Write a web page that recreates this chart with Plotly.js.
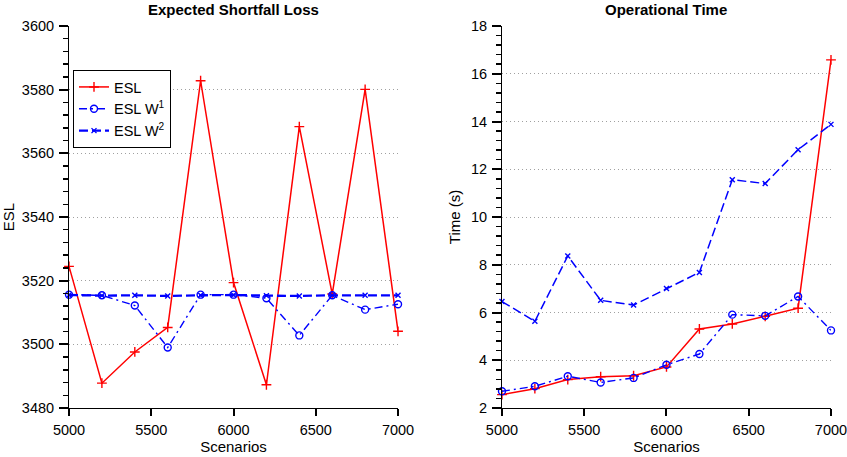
<!DOCTYPE html>
<html>
<head>
<meta charset="utf-8">
<script src="https://cdn.plot.ly/plotly-3.0.1.min.js"></script>
<style>
  html, body { margin: 0; padding: 0; background: #fff; }
  #chart { width: 847px; height: 457px; }
</style>
</head>
<body>
<div id="chart"></div>
<script>
// Number of scenarios (shared x values)
const scenarios = [5000, 5200, 5400, 5600, 5800, 6000, 6200, 6400, 6600, 6800, 7000];

// Expected shortfall loss per method
const eslPlain = [3524.5, 3487.8, 3497.6, 3505.3, 3582.8, 3519.4, 3487.3, 3568.4, 3515.8, 3580.1, 3504.1];
const eslW1    = [3515.6, 3515.4, 3512.2, 3499.0, 3515.6, 3515.6, 3514.5, 3502.8, 3515.4, 3510.9, 3512.6];
const eslW2    = [3515.5, 3515.3, 3515.4, 3515.2, 3515.4, 3515.5, 3515.3, 3515.2, 3515.4, 3515.4, 3515.4];

// Operational time (s) per method
const timePlain = [2.56, 2.81, 3.19, 3.31, 3.35, 3.72, 5.31, 5.52, 5.84, 6.18, 16.58];
const timeW1    = [2.70, 2.91, 3.33, 3.07, 3.26, 3.81, 4.26, 5.91, 5.86, 6.67, 5.25];
const timeW2    = [6.46, 5.63, 8.37, 6.51, 6.31, 7.01, 7.68, 11.56, 11.40, 12.82, 13.88];

const seriesNames = ['ESL', 'ESL W<sup>1</sup>', 'ESL W<sup>2</sup>'];

const RED = '#ff0000';
const BLUE = '#0000ff';
const AXIS = '#000000';
const FONT = 'Liberation Sans, Arial, sans-serif';

function styleRed(w) {
  return {
    mode: 'lines+markers',
    line: { color: RED, width: w },
    marker: { symbol: 'cross-thin-open', size: 7, color: RED, line: { color: RED, width: 1.4 } }
  };
}
function styleW1(w) {
  return {
    mode: 'lines+markers',
    line: { color: BLUE, width: w, dash: '8px,4px,2px,4px' },
    marker: { symbol: 'circle-open', size: 7, color: BLUE, line: { color: BLUE, width: 1.4 } }
  };
}
function styleW2(w) {
  return {
    mode: 'lines+markers',
    line: { color: BLUE, width: w, dash: '9px,4px' },
    marker: { symbol: 'x-thin-open', size: 5, color: BLUE, line: { color: BLUE, width: 1.4 } }
  };
}

const traces = [
  Object.assign({ x: scenarios, y: eslPlain, name: seriesNames[0], xaxis: 'x', yaxis: 'y', cliponaxis: false }, styleRed(1.5)),
  Object.assign({ x: scenarios, y: eslW1, name: seriesNames[1], xaxis: 'x', yaxis: 'y', cliponaxis: false }, styleW1(1.4)),
  Object.assign({ x: scenarios, y: eslW2, name: seriesNames[2], xaxis: 'x', yaxis: 'y', cliponaxis: false }, styleW2(2.3)),
  Object.assign({ x: scenarios, y: timePlain, name: seriesNames[0], xaxis: 'x2', yaxis: 'y2', showlegend: false, cliponaxis: false }, styleRed(1.5)),
  Object.assign({ x: scenarios, y: timeW1, name: seriesNames[1], xaxis: 'x2', yaxis: 'y2', showlegend: false, cliponaxis: false }, styleW1(1.4)),
  Object.assign({ x: scenarios, y: timeW2, name: seriesNames[2], xaxis: 'x2', yaxis: 'y2', showlegend: false, cliponaxis: false }, styleW2(1.5))
];

const tickFont = { family: FONT, size: 14.5, color: '#000' };
const titleFont = { family: FONT, size: 15, color: '#000' };

function xAxis(domain, anchor) {
  return {
    domain: domain, anchor: anchor,
    range: [5000, 7000], tickmode: 'array', tickvals: [5000, 5500, 6000, 6500, 7000],
    showline: true, linecolor: AXIS, linewidth: 1,
    ticks: 'outside', ticklen: 7, tickcolor: AXIS, tickwidth: 2,
    showgrid: false, zeroline: false,
    tickfont: tickFont, ticklabeloverflow: 'allow', ticklabelstandoff: 2,
    title: { text: 'Scenarios', font: titleFont, standoff: 3 }
  };
}
function yAxis(range, dtick, minorStep, title, anchor, standoff) {
  return {
    domain: [0, 1], anchor: anchor,
    range: range, tickmode: 'linear', dtick: dtick, tick0: range[0],
    showline: true, linecolor: AXIS, linewidth: 1,
    ticks: 'outside', ticklen: 9, tickcolor: AXIS, tickwidth: 2,
    minor: { tickmode: 'linear', dtick: minorStep, tick0: range[0], ticks: 'outside', ticklen: 5, tickwidth: 1.5, tickcolor: AXIS, showgrid: false },
    showgrid: true, gridcolor: '#a0a0a0', gridwidth: 1, griddash: '1px,3px',
    zeroline: false,
    tickfont: tickFont, ticklabeloverflow: 'allow', ticklabelstandoff: 2,
    title: { text: title, font: titleFont, standoff: standoff }
  };
}

const layout = {
  width: 847, height: 457,
  margin: { l: 69, r: 16, t: 26, b: 49 },
  paper_bgcolor: '#fff', plot_bgcolor: '#fff',
  font: { family: FONT, color: '#000' },
  xaxis: xAxis([0, 0.4318], 'y'),
  yaxis: yAxis([3480, 3600], 20, 4, 'ESL', 'x', 8),
  xaxis2: xAxis([0.5682, 1], 'y2'),
  yaxis2: yAxis([2, 18], 2, 0.4, 'Time (s)', 'x2', 6),
  showlegend: true,
  legend: {
    x: (73 - 69) / 762, y: 1 - (70 - 26) / 382, xanchor: 'left', yanchor: 'top',
    bgcolor: '#fff', bordercolor: '#000', borderwidth: 1,
    font: { family: FONT, size: 14.5, color: '#000' },
    itemwidth: 30, tracegroupgap: 0
  },
  annotations: [
    { text: '<b>Expected Shortfall Loss</b>', xref: 'paper', yref: 'paper',
      x: 0.4318 / 2, y: 1 + (26 - 10) / 382, xanchor: 'center', yanchor: 'middle',
      showarrow: false, font: { family: FONT, size: 15, color: '#000' } },
    { text: '<b>Operational Time</b>', xref: 'paper', yref: 'paper',
      x: (0.5682 + 1) / 2, y: 1 + (26 - 10) / 382, xanchor: 'center', yanchor: 'middle',
      showarrow: false, font: { family: FONT, size: 15, color: '#000' } }
  ]
};

Plotly.newPlot('chart', traces, layout, { displayModeBar: false, staticPlot: true });
</script>
</body>
</html>
